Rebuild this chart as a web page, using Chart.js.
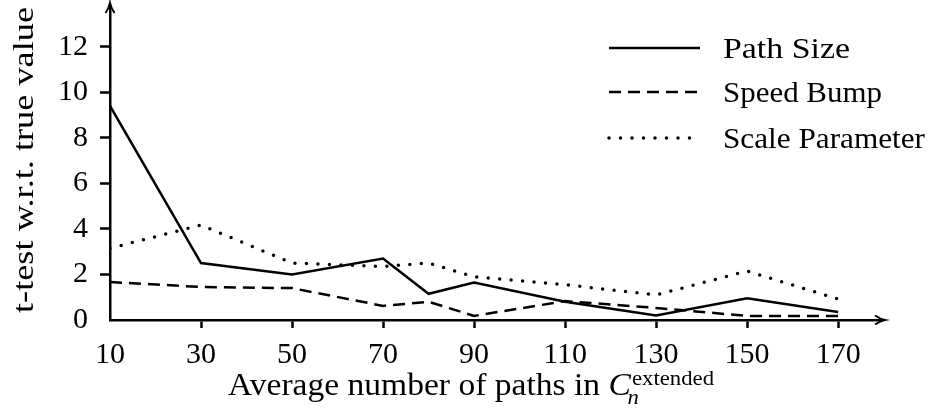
<!DOCTYPE html>
<html>
<head>
<meta charset="utf-8">
<script src="https://cdn.jsdelivr.net/npm/chart.js@4.4.1/dist/chart.umd.min.js"></script>
<style>
  html, body { margin: 0; padding: 0; background: #fff; }
  #wrap { width: 931px; height: 409px; }
</style>
</head>
<body>
<div id="wrap"><canvas id="myChart" width="931" height="409"></canvas></div>
<script>
// data
const xValues = [10, 30, 50, 70, 80, 90, 110, 130, 150, 170];
const pathSize = [9.4, 2.5, 2.0, 2.7, 1.15, 1.65, 0.8, 0.2, 0.95, 0.35];
const speedBump = [1.67, 1.45, 1.4, 0.62, 0.8, 0.18, 0.83, 0.53, 0.18, 0.18];
const scaleParam = [3.15, 4.17, 2.5, 2.35, 2.5, 1.9, 1.55, 1.1, 2.15, 0.92];
const xTicks = [10, 30, 50, 70, 90, 110, 130, 150, 170];
const yTicks = [0, 2, 4, 6, 8, 10, 12];

const FONT = '"Liberation Serif", "DejaVu Serif", serif';
// legend text lengths in the original (its serif face is wider)
const legendWidths = [127, 159, 202];
const legendY = [48, 92, 138];

function toPoints(ys) {
    return xValues.map((x, i) => ({ x: x, y: ys[i] }));
}

function fitText(c, text, x, y, width) {
    const sx = width / c.measureText(text).width;
    c.save();
    c.translate(x, y);
    c.scale(sx, 1);
    c.fillText(text, 0, 0);
    c.restore();
}

// axis arrows, legend and titles
const decorations = {
    id: 'decorations',
    afterDraw(chart) {
        const c = chart.ctx;
        const a = chart.chartArea;
        const x0 = chart.scales.x.getPixelForValue(10);
        const y0 = chart.scales.y.getPixelForValue(0);
        c.save();
        c.strokeStyle = '#000';
        c.fillStyle = '#000';
        c.lineWidth = 2;

        // y axis extension + arrow
        c.beginPath();
        c.moveTo(x0, a.top);
        c.lineTo(x0, a.top - 4);
        c.stroke();
        c.beginPath();
        c.moveTo(x0 - 4.5, a.top + 5);
        c.quadraticCurveTo(x0 - 1, a.top, x0, a.top - 5);
        c.quadraticCurveTo(x0 + 1, a.top, x0 + 4.5, a.top + 5);
        c.stroke();

        // x axis arrow
        c.beginPath();
        c.moveTo(a.right, y0);
        c.lineTo(a.right + 4, y0);
        c.stroke();
        c.beginPath();
        c.moveTo(a.right - 5, y0 - 4.5);
        c.quadraticCurveTo(a.right, y0 - 1, a.right + 5, y0);
        c.quadraticCurveTo(a.right, y0 + 1, a.right - 5, y0 + 4.5);
        c.stroke();

        // legend
        chart.data.datasets.forEach((ds, i) => {
            c.save();
            c.lineWidth = ds.borderWidth;
            c.setLineDash(ds.borderDash || []);
            c.lineCap = ds.borderCapStyle || 'butt';
            c.beginPath();
            c.moveTo(609, legendY[i]);
            c.lineTo(700, legendY[i]);
            c.stroke();
            c.restore();
            c.font = '30px ' + FONT;
            c.textBaseline = 'alphabetic';
            c.textAlign = 'left';
            fitText(c, ds.label, 723, legendY[i] + 10, legendWidths[i]);
        });

        // y title, stretched to the original length
        c.save();
        c.font = '30px ' + FONT;
        const yt = 't-test w.r.t. true value';
        const ys = 306 / c.measureText(yt).width;
        c.translate(33, 160);
        c.rotate(-Math.PI / 2);
        c.scale(ys, 1);
        c.textAlign = 'center';
        c.textBaseline = 'alphabetic';
        c.fillText(yt, 0, 0);
        c.restore();

        // x title with math part
        const base = 395;
        const main = 'Average number of paths in ';
        c.textAlign = 'left';
        c.textBaseline = 'alphabetic';
        c.font = '31px ' + FONT;
        const wMain = c.measureText(main).width;
        c.font = 'italic 31px ' + FONT;
        const wC = c.measureText('C').width;
        c.font = '21px ' + FONT;
        const wSup = c.measureText('extended').width;
        const sx = 486 / (wMain + wC + 1 + wSup);
        c.save();
        c.translate(228, base);
        c.scale(sx, 1);
        c.font = '31px ' + FONT;
        c.fillText(main, 0, 0);
        c.font = 'italic 31px ' + FONT;
        c.fillText('C', wMain, 0);
        c.font = 'italic 21px ' + FONT;
        c.fillText('n', wMain + wC - 3, 9);
        c.font = '21px ' + FONT;
        c.fillText('extended', wMain + wC + 1, -10);
        c.restore();
        c.restore();
    }
};

const ctx = document.getElementById('myChart').getContext('2d');
const myChart = new Chart(ctx, {
    type: 'line',
    data: {
        datasets: [{
            label: 'Path Size',
            data: toPoints(pathSize),
            borderColor: '#000',
            borderWidth: 2.5,
            borderDash: [],
            pointRadius: 0,
            tension: 0
        }, {
            label: 'Speed Bump',
            data: toPoints(speedBump),
            borderColor: '#000',
            borderWidth: 2.5,
            borderDash: [12, 7],
            pointRadius: 0,
            tension: 0
        }, {
            label: 'Scale Parameter',
            data: toPoints(scaleParam),
            borderColor: '#000',
            borderWidth: 3.5,
            borderDash: [0, 11.5],
            borderCapStyle: 'round',
            pointRadius: 0,
            tension: 0
        }]
    },
    options: {
        responsive: false,
        animation: false,
        layout: { padding: { top: 8, right: 51, left: 0, bottom: 0 } },
        plugins: {
            legend: { display: false },
            tooltip: { enabled: false }
        },
        scales: {
            x: {
                type: 'linear',
                min: 10,
                max: 179.2,
                afterBuildTicks: (s) => { s.ticks = xTicks.map(v => ({ value: v })); },
                afterFit: (s) => { s.height = 89; s.paddingLeft = 0; s.paddingRight = 0; },
                border: { display: true, color: '#000', width: 2.5 },
                grid: {
                    drawOnChartArea: false,
                    drawTicks: true,
                    tickLength: 8,
                    tickWidth: 2.5,
                    tickColor: (c) => c.tick && c.tick.value === 10 ? 'rgba(0,0,0,0)' : '#000'
                },
                ticks: {
                    color: '#000',
                    padding: 9,
                    maxRotation: 0,
                    autoSkip: false,
                    font: { family: FONT, size: 30 }
                }
            },
            y: {
                min: 0,
                max: 13.7,
                afterBuildTicks: (s) => { s.ticks = yTicks.map(v => ({ value: v })); },
                afterFit: (s) => { s.width = 110; s.paddingTop = 0; s.paddingBottom = 0; },
                border: { display: true, color: '#000', width: 2.5 },
                grid: {
                    drawOnChartArea: false,
                    drawTicks: true,
                    tickLength: 10,
                    tickWidth: 2.5,
                    tickColor: (c) => c.tick && c.tick.value === 0 ? 'rgba(0,0,0,0)' : '#000'
                },
                ticks: {
                    color: '#000',
                    padding: 12,
                    font: { family: FONT, size: 30 }
                }
            }
        }
    },
    plugins: [decorations]
});
</script>
</body>
</html>
